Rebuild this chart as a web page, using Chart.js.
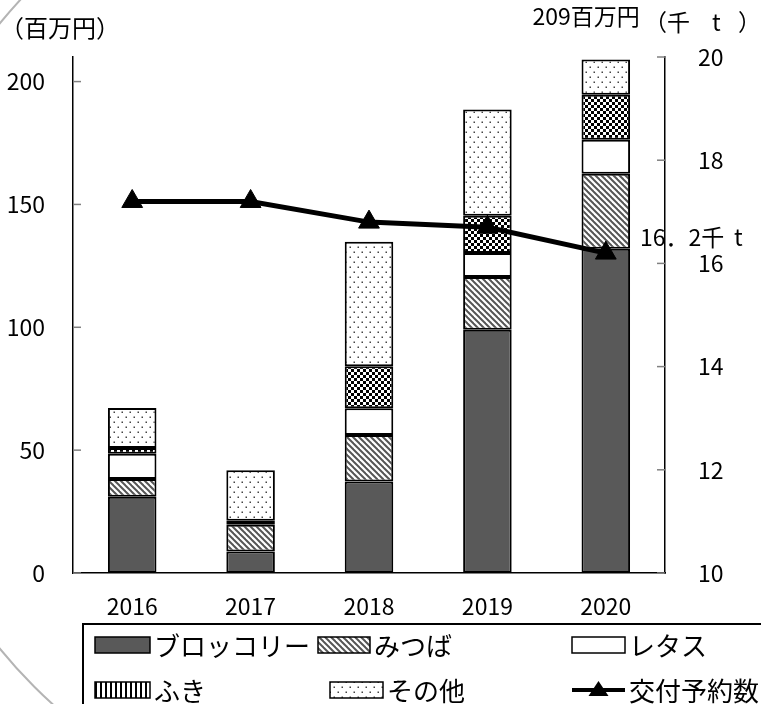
<!DOCTYPE html>
<html lang="ja">
<head>
<meta charset="utf-8">
<title>交付予約数と品目別の金額</title>
<script src="https://cdn.jsdelivr.net/npm/chart.js@4.4.1/dist/chart.umd.min.js"></script>
<style>
  html, body { margin: 0; padding: 0; background: #fff; overflow: hidden; }
  #wrap { position: relative; width: 761px; height: 704px; overflow: hidden; }
  #deco { position: absolute; left: 0; top: 0; width: 160px; height: 704px; overflow: hidden; }
  #circle { position: absolute; left: -112px; top: -161px; width: 994px; height: 994px;
            border: 2px solid #b4b4b4; border-radius: 50%; box-sizing: border-box; }
  #chart { position: absolute; left: 0; top: 0; }
</style>
</head>
<body>
<div id="wrap">
  <div id="deco"><div id="circle"></div></div>
  <canvas id="chart" width="761" height="704"></canvas>
</div>
<script>
// données (百万円 / 千t)
var years = ['2016', '2017', '2018', '2019', '2020'];
var broccoli = [31, 8.7, 37.2, 99, 132];
var mitsuba = [7.3, 10.9, 19, 21.5, 30.5];
var lettuce = [10.2, 1.2, 10.9, 9.7, 13.8];
var fuki = [2.4, 0.5, 17, 15.2, 18.3];
var sonota = [16.3, 20.5, 50.7, 43.2, 14.4];
var kofu = [17.2, 17.2, 16.8, 16.7, 16.2];
var leftTicks = [0, 50, 100, 150, 200];
var rightTicks = [10, 12, 14, 16, 18, 20];

var JP_FONT = '"Noto Sans CJK JP", sans-serif';

/**
 * Build a canvas pattern from a small tile
 */
function makePattern(w, h, draw) {
    var c = document.createElement('canvas');
    c.width = w;
    c.height = h;
    var g = c.getContext('2d');
    g.fillStyle = '#fff';
    g.fillRect(0, 0, w, h);
    draw(g);
    return document.createElement('canvas').getContext('2d').createPattern(c, 'repeat');
}

var mitsubaPattern = makePattern(6, 6, function (g) {
    g.strokeStyle = '#555';
    g.lineWidth = 2;
    for (var k = -6; k <= 6; k += 6) {
        g.beginPath();
        g.moveTo(k - 1, -1);
        g.lineTo(k + 7, 7);
        g.stroke();
    }
});
var fukiPattern = makePattern(6, 6, function (g) {
    g.fillStyle = '#000';
    g.fillRect(0, 0, 3, 3);
    g.fillRect(3, 3, 3, 3);
});
var fukiLegendPattern = makePattern(5, 2, function (g) {
    g.fillStyle = '#000';
    g.fillRect(0, 0, 2, 2);
});
var sonotaPattern = makePattern(8, 10, function (g) {
    g.fillStyle = '#444';
    g.fillRect(1.5, 1.5, 1.5, 1.5);
    g.fillRect(5.5, 6.5, 1.5, 1.5);
});

function barSet(label, data, fill) {
    return {
        type: 'bar',
        label: label,
        data: data,
        backgroundColor: fill,
        borderColor: '#000',
        borderWidth: 2,
        borderSkipped: false,
        yAxisID: 'y',
        stack: 'a',
        order: 2,
        categoryPercentage: 1,
        barPercentage: 0.41
    };
}

/**
 * Inward tick marks, titles, value notes and legend
 */
var extras = {
    id: 'extras',
    afterDraw: function (chart) {
        var ctx = chart.ctx;
        var x = chart.scales.x, y = chart.scales.y, y2 = chart.scales.y2;
        ctx.save();

        // ticks pointing inside the plot
        ctx.strokeStyle = '#808080';
        ctx.lineWidth = 1.5;
        leftTicks.forEach(function (v) {
            var py = y.getPixelForValue(v);
            ctx.beginPath();
            ctx.moveTo(y.right, py);
            ctx.lineTo(y.right + 8, py);
            ctx.stroke();
        });
        rightTicks.forEach(function (v) {
            var py = y2.getPixelForValue(v);
            ctx.beginPath();
            ctx.moveTo(y2.left - 8, py);
            ctx.lineTo(y2.left, py);
            ctx.stroke();
        });

        ctx.fillStyle = '#000';
        ctx.textBaseline = 'middle';
        ctx.textAlign = 'left';

        // axis titles
        ctx.font = '24px ' + JP_FONT;
        ctx.fillText('（百万円）', 0, 28);
        ctx.font = '23px ' + JP_FONT;
        ctx.fillText('（千', 644, 22);
        ctx.fillText('t', 712, 22);
        ctx.fillText('）', 738, 22);

        // total of the last bar
        var last = years.length - 1;
        var total = broccoli[last] + mitsuba[last] + lettuce[last] + fuki[last] + sonota[last];
        var bx = x.getPixelForValue(last);
        ctx.font = '23px ' + JP_FONT;
        ctx.textAlign = 'right';
        ctx.fillText(Math.round(total) + '百万円', bx + 34, y.getPixelForValue(total) - 43);

        // last value of the line
        var ly = y2.getPixelForValue(kofu[last]);
        ctx.textAlign = 'left';
        ctx.fillText('16．2千', y2.left - 25, ly - 16);
        ctx.fillText('t', y2.left + 69, ly - 16);

        // legend box
        ctx.fillStyle = '#fff';
        ctx.fillRect(83, 624, 720, 120);
        ctx.strokeStyle = '#000';
        ctx.lineWidth = 2;
        ctx.strokeRect(83, 624, 720, 120);

        var sets = chart.data.datasets;
        var items = [
            {ds: 0, fill: sets[0].backgroundColor, x: 95, y: 645, w: 55},
            {ds: 1, fill: mitsubaPattern, x: 318, y: 645, w: 52},
            {ds: 2, fill: '#fff', x: 572, y: 645, w: 53},
            {ds: 3, fill: fukiLegendPattern, x: 95, y: 690, w: 55},
            {ds: 4, fill: sonotaPattern, x: 330, y: 690, w: 53},
            {ds: 5, line: true, x: 572, y: 690, w: 53}
        ];
        ctx.font = '26px ' + JP_FONT;
        items.forEach(function (it) {
            if (it.line) {
                ctx.strokeStyle = '#000';
                ctx.lineWidth = 4;
                ctx.beginPath();
                ctx.moveTo(it.x, it.y);
                ctx.lineTo(it.x + it.w, it.y);
                ctx.stroke();
                ctx.fillStyle = '#000';
                ctx.beginPath();
                ctx.moveTo(it.x + it.w / 2, it.y - 9);
                ctx.lineTo(it.x + it.w / 2 + 10, it.y + 6);
                ctx.lineTo(it.x + it.w / 2 - 10, it.y + 6);
                ctx.closePath();
                ctx.fill();
            } else {
                ctx.fillStyle = it.fill;
                ctx.fillRect(it.x, it.y - 8, it.w, 16);
                ctx.strokeStyle = '#000';
                ctx.lineWidth = 1.5;
                ctx.strokeRect(it.x, it.y - 8, it.w, 16);
            }
            ctx.fillStyle = '#000';
            ctx.fillText(sets[it.ds].label, it.x + it.w + 4, it.y + 1);
        });

        ctx.restore();
    }
};

var ctx = document.getElementById('chart').getContext('2d');
var chart = new Chart(ctx, {
    data: {
        labels: years,
        datasets: [
            barSet('ブロッコリー', broccoli, '#595959'),
            barSet('みつば', mitsuba, mitsubaPattern),
            barSet('レタス', lettuce, '#fff'),
            barSet('ふき', fuki, fukiPattern),
            barSet('その他', sonota, sonotaPattern),
            {
                type: 'line',
                label: '交付予約数',
                data: kofu,
                yAxisID: 'y2',
                order: 0,
                borderColor: '#000',
                borderWidth: 5,
                backgroundColor: '#000',
                pointStyle: 'triangle',
                pointRadius: 12,
                pointBorderWidth: 1,
                pointBackgroundColor: '#000',
                tension: 0
            }
        ]
    },
    options: {
        responsive: false,
        animation: false,
        layout: {padding: {top: 57, left: 0, right: 0, bottom: 0}},
        plugins: {
            legend: {display: false},
            tooltip: {enabled: false}
        },
        scales: {
            x: {
                stacked: true,
                grid: {display: false},
                border: {display: true, color: '#000', width: 1.5},
                ticks: {color: '#000', padding: 11, font: {family: JP_FONT, size: 23}},
                afterFit: function (scale) { scale.height = 131; }
            },
            y: {
                stacked: true,
                position: 'left',
                min: 0,
                max: 210,
                grid: {display: false},
                border: {display: true, color: '#000', width: 1.5},
                ticks: {stepSize: 50, includeBounds: false, color: '#000', padding: 20,
                        font: {family: JP_FONT, size: 23}},
                afterFit: function (scale) { scale.width = 73; }
            },
            y2: {
                position: 'right',
                min: 10,
                max: 20,
                grid: {display: false},
                border: {display: true, color: '#000', width: 1.5},
                ticks: {stepSize: 2, color: '#000', padding: 25,
                        font: {family: JP_FONT, size: 23}},
                afterFit: function (scale) { scale.width = 96; }
            }
        }
    },
    plugins: [extras]
});
</script>
</body>
</html>
